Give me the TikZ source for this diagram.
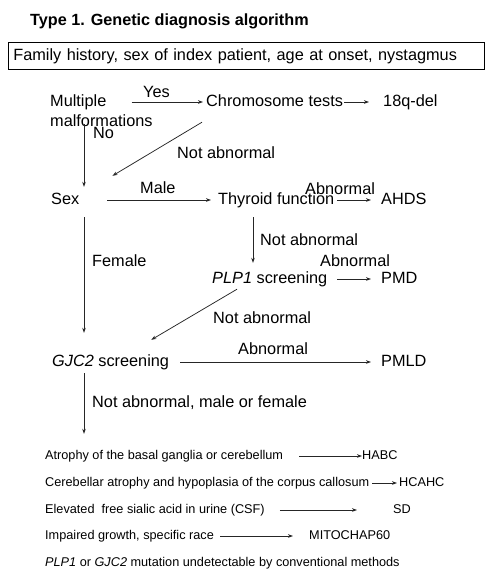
\documentclass[tikz,border=0pt]{standalone}
\usepackage{fontspec}
\setmainfont{Liberation Sans}
\usetikzlibrary{arrows.meta,calc}
\begin{document}
\begin{tikzpicture}[x=1pt,y=-1pt,
  lbl/.style={font=\fontsize{16.3}{19}\selectfont, inner sep=0pt, anchor=base west, text height=9pt, text depth=1pt},
  sml/.style={font=\fontsize{12.7}{15}\selectfont, inner sep=0pt, anchor=base west, text height=7pt, text depth=1pt},
  arr/.style={-{Stealth[length=5pt,width=3.6pt]}, line width=0.75pt, draw=black!85},
]
\useasboundingbox (0,0) rectangle (495,576);
\fill[white] (0,0) rectangle (495,576);

\node[lbl, font=\bfseries\fontsize{16.2}{19}\selectfont] (title) at (30,25) {Type 1. Genetic diagnosis algorithm};
\node[draw, line width=0.75pt, anchor=north west, minimum width=476pt, minimum height=27pt,
      inner xsep=5pt, inner ysep=0pt, text width=466pt, align=left, font=\fontsize{16.3}{19}\selectfont] (fam) at (8,42)
      {Family history, sex of index patient, age at onset, nystagmus};

\coordinate (spine) at (84,0);
\coordinate (col2) at (253,0);

\node[lbl] (mult) at (50,106) {Multiple};
\node[lbl] (malf) at (50,126) {malformations};
\node[lbl] (yes) at (143,97) {Yes};
\node[lbl] (chrom) at (206,106) {Chromosome tests};
\node[lbl] (q18) at (383,106) {18q-del};
\node[lbl] (no) at (93,138) {No};
\node[lbl] (na1) at (177,158) {Not abnormal};
\node[lbl] (sex) at (51,204) {Sex};
\node[lbl] (male) at (140,193) {Male};
\node[lbl] (thy) at (218,204) {Thyroid function};
\node[lbl] (ab1) at (305,194) {Abnormal};
\node[lbl] (ahds) at (381,204) {AHDS};
\node[lbl] (na2) at (260,245) {Not abnormal};
\node[lbl] (female) at (92,266) {Female};
\node[lbl] (ab2) at (320,266) {Abnormal};
\node[lbl] (plp) at (212,283) {\textit{PLP1} screening};
\node[lbl] (pmd) at (381,283) {PMD};
\node[lbl] (na3) at (213,323) {Not abnormal};
\node[lbl] (gjc) at (52,366) {\textit{GJC2} screening};
\node[lbl] (ab3) at (238,354) {Abnormal};
\node[lbl] (pmld) at (381,366) {PMLD};
\node[lbl] (na4) at (92,407) {Not abnormal, male or female};

\node[sml] (l1) at (45,459) {Atrophy of the basal ganglia or cerebellum};
\node[sml] (habc) at (362,459) {HABC};
\node[sml] (l2) at (45,486) {Cerebellar atrophy and hypoplasia of the corpus callosum};
\node[sml] (hcahc) at (399,486) {HCAHC};
\node[sml] (l3) at (45,513) {Elevated\ \ free sialic acid in urine (CSF)};
\node[sml] (sd) at (393,513) {SD};
\node[sml] (l4) at (45,539) {Impaired growth, specific race};
\node[sml] (mito) at (309,539) {MITOCHAP60};
\node[sml] (l5) at (45,566) {\textit{PLP1} or \textit{GJC2} mutation undetectable by conventional methods};

% connectors
\draw[arr, shorten <=25pt, shorten >=3pt] (mult.east) -- (chrom.west);
\draw[arr, shorten <=1pt, shorten >=14pt] (chrom.east) -- (q18.west);
\draw[arr, shorten <=-3pt, shorten >=8pt] (malf.south -| spine) -- (sex.north -| spine);
\draw[arr] ($(chrom.south west)+(-4,15)$) -- ($(sex.north east)+(33,-19)$);
\draw[arr, shorten <=28pt, shorten >=7pt] (sex.east) -- (thy.west);
\draw[arr, shorten <=3pt, shorten >=10pt] (thy.east) -- (ahds.west);
\draw[arr, shorten <=12pt, shorten >=11pt] (thy.south -| col2) -- (plp.north -| col2);
\draw[arr, shorten <=10pt, shorten >=10pt] (plp.east) -- (pmd.west);
\draw[arr] ($(plp.south west)+(25,5)$) -- ($(gjc.north east)+(-18,-17)$);
\draw[arr, shorten <=12pt, shorten >=24pt] (sex.south -| spine) -- (gjc.north -| spine);
\draw[arr, shorten <=11pt, shorten >=10pt] (gjc.east) -- (pmld.west);
\draw[arr, shorten <=6pt, shorten >=18pt] (gjc.south -| spine) -- (l1.north -| spine);

\draw[arr, shorten <=16pt] (l1.east) -- (habc.west);
\draw[arr, shorten <=3pt, shorten >=2pt] (l2.east) -- (hcahc.west);
\draw[arr, shorten <=15pt, shorten >=36pt] (l3.east) -- (sd.west);
\draw[arr, shorten <=6pt, shorten >=16pt] (l4.east) -- (mito.west);
\end{tikzpicture}
\end{document}
